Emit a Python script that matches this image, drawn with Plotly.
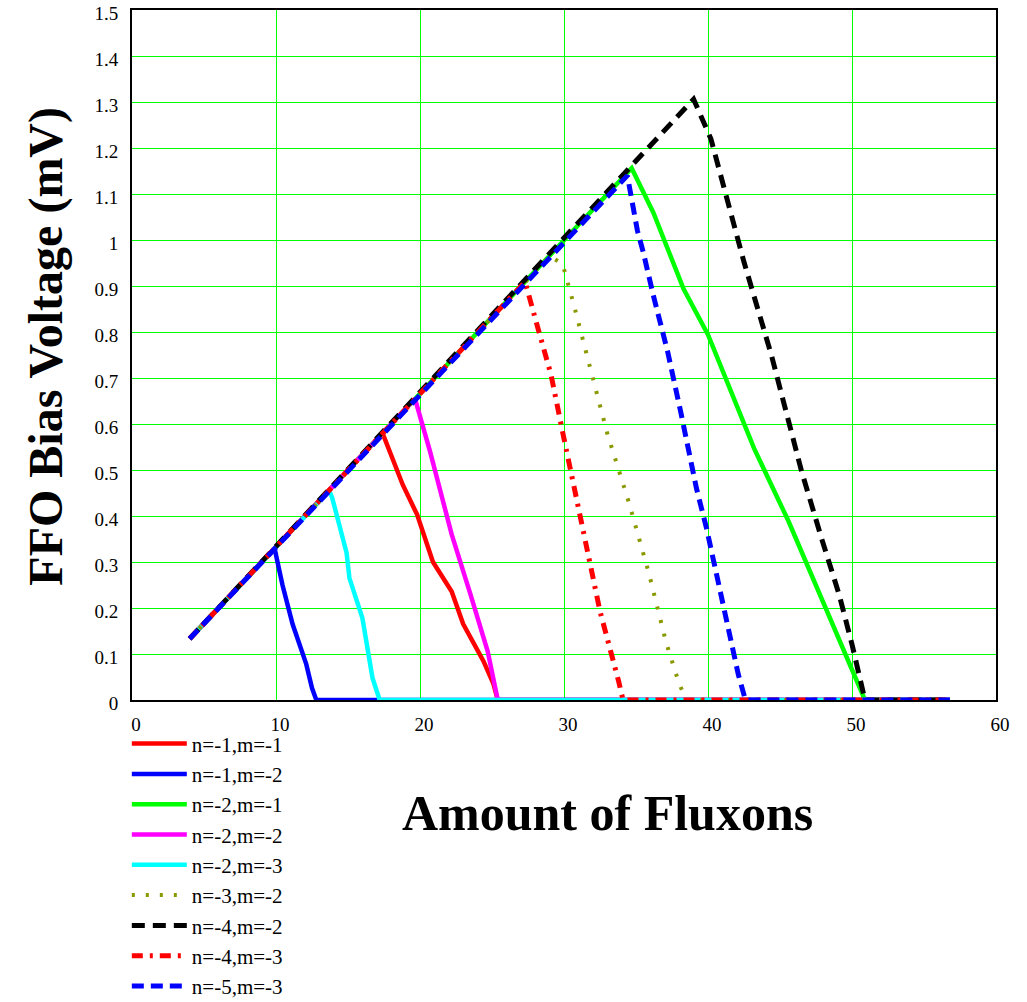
import plotly.graph_objects as go

# Common rising branch: every mode starts here and climbs along V = N/30
x_start = 4.0
y_start = 0.133
x_end = 56.8  # all curves run flat at zero out to here

# Per-mode (n, m) curves: peak on the common branch, then the falling edge
names = ["n=-1,m=-1", "n=-1,m=-2", "n=-2,m=-1", "n=-2,m=-2", "n=-2,m=-3",
         "n=-3,m=-2", "n=-4,m=-2", "n=-4,m=-3", "n=-5,m=-3"]

x_n1m1 = [17.4, 18.8, 19.8, 20.9, 22.2, 23.0, 24.4, 25.1, 25.4]
y_n1m1 = [0.58, 0.468, 0.403, 0.30, 0.236, 0.165, 0.085, 0.035, 0.0]

x_n1m2 = [9.9, 10.45, 11.15, 12.1, 12.5, 12.8]
y_n1m2 = [0.33, 0.25, 0.165, 0.078, 0.026, 0.0]

x_n2m1 = [34.7, 36.2, 38.3, 40.0, 43.2, 45.6, 47.9, 50.0, 50.9]
y_n2m1 = [1.156, 1.06, 0.894, 0.794, 0.547, 0.388, 0.221, 0.07, 0.0]

x_n2m2 = [19.65, 20.7, 22.2, 23.5, 24.7, 25.4]
y_n2m2 = [0.655, 0.54, 0.36, 0.23, 0.106, 0.0]

x_n2m3 = [13.7, 13.9, 14.9, 15.1, 16.0, 16.7, 17.2]
y_n2m3 = [0.455, 0.44, 0.32, 0.265, 0.178, 0.048, 0.0]

x_n3m2 = [29.0, 29.9, 30.7, 32.0, 33.0, 34.5, 35.9, 37.1, 38.0, 38.5]
y_n3m2 = [0.965, 0.948, 0.857, 0.70, 0.58, 0.43, 0.275, 0.124, 0.035, 0.0]

x_n4m2 = [39.0, 40.2, 41.6, 42.5, 44.4, 46.5, 47.9, 49.1, 50.0, 50.9]
y_n4m2 = [1.306, 1.22, 1.06, 0.952, 0.75, 0.497, 0.35, 0.23, 0.121, 0.0]

x_n4m3 = [27.3, 28.2, 29.1, 29.9, 31.5, 32.5, 33.8, 34.1]
y_n4m3 = [0.909, 0.807, 0.707, 0.583, 0.35, 0.193, 0.04, 0.0]

x_n5m3 = [34.4, 35.1, 35.5, 36.2, 37.2, 38.1, 39.2, 39.9, 40.7, 41.4, 42.1, 42.6]
y_n5m3 = [1.14, 1.02, 0.974, 0.88, 0.757, 0.627, 0.46, 0.373, 0.258, 0.15, 0.056, 0.0]

xs = [x_n1m1, x_n1m2, x_n2m1, x_n2m2, x_n2m3, x_n3m2, x_n4m2, x_n4m3, x_n5m3]
ys = [y_n1m1, y_n1m2, y_n2m1, y_n2m2, y_n2m3, y_n3m2, y_n4m2, y_n4m3, y_n5m3]

colors = ["#ff0000", "#0000ff", "#00ff00", "#ff00ff", "#00ffff",
          "#8a9900", "#000000", "#ff0000", "#0000ff"]
dashes = ["solid", "solid", "solid", "solid", "solid",
          "3px,11px", "13px,8px", "11px,7px,3px,7px", "12px,7px"]
widths = [4.5, 4.5, 4.5, 4.5, 4.5, 4, 5, 5, 5]

x_ticks = [0, 10, 20, 30, 40, 50, 60]
y_ticks = [round(0.1 * i, 1) for i in range(16)]
y_tick_text = ["0"] + ["%g" % v for v in y_ticks[1:]]

SERIF = "Liberation Serif, Times New Roman, serif"

fig = go.Figure()
for i, name in enumerate(names):
    fig.add_trace(go.Scatter(
        x=[x_start] + xs[i] + [x_end],
        y=[y_start] + ys[i] + [0.0],
        mode="lines",
        name=name,
        line=dict(color=colors[i], width=widths[i], dash=dashes[i]),
    ))

GRID = "#00ff00"

fig.update_layout(
    width=1027, height=1002,
    margin=dict(l=132, r=31, t=10, b=302, autoexpand=False),
    paper_bgcolor="white",
    plot_bgcolor="white",
    font=dict(family=SERIF, color="black", size=19),
    showlegend=True,
    legend=dict(
        x=-0.006, y=-0.034, xanchor="left", yanchor="top",
        font=dict(family=SERIF, size=21, color="black"),
        itemwidth=55,
        bgcolor="rgba(0,0,0,0)",
    ),
    xaxis=dict(
        range=[0, 60], tickvals=x_ticks, ticktext=[str(v) for v in x_ticks],
        showgrid=True, gridcolor=GRID, gridwidth=1,
        showline=True, linecolor="black", linewidth=2, mirror=True,
        zeroline=False, ticks="", ticklabelshift=4, ticklabelstandoff=6,
        tickfont=dict(family=SERIF, size=19, color="black"),
    ),
    yaxis=dict(
        range=[0, 1.5], tickvals=y_ticks, ticktext=y_tick_text,
        showgrid=True, gridcolor=GRID, gridwidth=1,
        showline=True, linecolor="black", linewidth=2, mirror=True,
        zeroline=False, ticks="", ticklabelshift=3, ticklabelstandoff=8,
        ticklabeloverflow="allow",
        tickfont=dict(family=SERIF, size=19, color="black"),
    ),
    annotations=[
        dict(text="<b>Amount of Fluxons</b>", xref="paper", yref="paper",
             x=0.5505, y=-0.164, xanchor="center", yanchor="middle",
             showarrow=False, font=dict(family=SERIF, size=50, color="black")),
        dict(text="<b>FFO Bias Voltage (mV)</b>", xref="paper", yref="paper",
             x=-0.1, y=0.513, xanchor="center", yanchor="middle",
             textangle=-90, showarrow=False,
             font=dict(family=SERIF, size=48, color="black")),
    ],
)

fig.write_html("out.html")
